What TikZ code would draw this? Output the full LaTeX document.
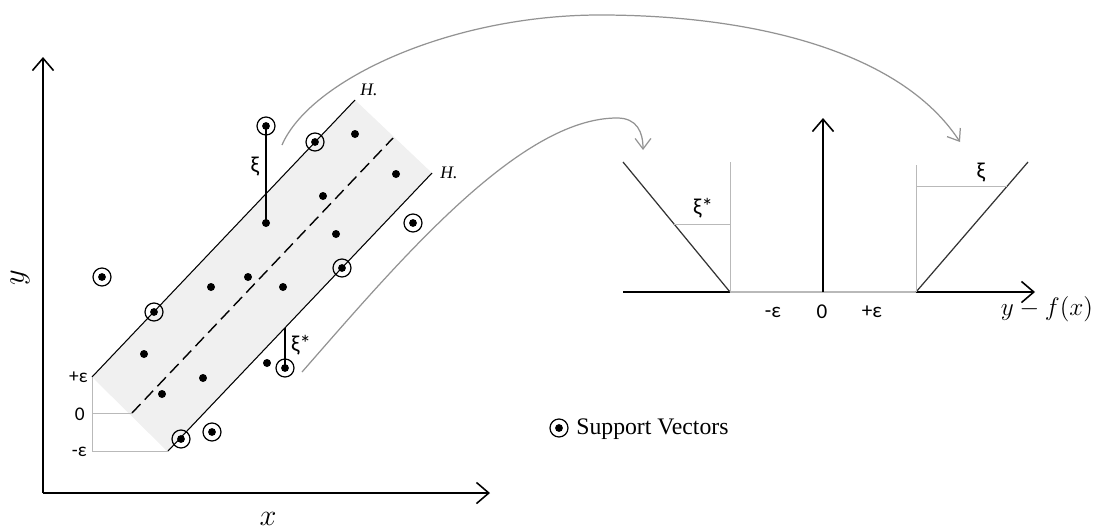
\documentclass[tikz,border=0pt]{standalone}
\usepackage{fontspec}
\setmainfont{Liberation Serif}
\newfontfamily\calib{Carlito}
\usetikzlibrary{arrows.meta}
\begin{document}
\begin{tikzpicture}[x=0.02cm,y=-0.02cm,
  datapt/.style={circle,fill=black,inner sep=0pt,minimum size=0.16cm},
  sv/.style={circle,draw=black,line width=0.7pt,inner sep=0pt,minimum size=0.36cm,
    path picture={\fill[black] (path picture bounding box.center) circle (0.078cm);}},
  myaxis/.style={line width=0.9pt,-{Straight Barb[length=7pt,width=12pt]}},
  hyper/.style={line width=0.6pt},
  guide/.style={draw=gray!55,line width=0.5pt},
  flowarc/.style={draw=gray!85,line width=0.7pt,-{Straight Barb[length=6pt,width=9pt]}},
  lab/.style={font=\calib\fontsize{11}{13}\selectfont,inner sep=0pt},
  glab/.style={font=\calib\fontsize{13}{15}\selectfont,inner sep=0pt},
  hlab/.style={font=\itshape\fontsize{10}{12}\selectfont,inner sep=0pt},
  ]
\useasboundingbox (0,0) rectangle (1098,531);

% ---------- left plot ----------
\fill[gray!12] (92,377) -- (355,100) -- (432,173) -- (168,452) -- cycle;

\coordinate (O) at (43,493);
\coordinate (Ytip) at (43,57);
\coordinate (Xtip) at (490,493);
\draw[myaxis] (O) -- (Ytip);
\draw[myaxis] (O) -- (Xtip);
\node[font=\fontsize{16}{18}\selectfont,rotate=90,inner sep=0pt] (ylab) at (20,278) {$y$};
\node[font=\fontsize{16}{18}\selectfont,inner sep=0pt] (xlab) at (268,519) {$x$};

% hyperplanes
\coordinate (Ha) at (92,377);
\coordinate (Hb) at (355,100);
\coordinate (La) at (168,451);
\coordinate (Lb) at (432,173);
\coordinate (Ma) at (132,413);
\coordinate (Mb) at (393,138);
\draw[hyper] (Ha) -- (Hb);
\draw[hyper] (La) -- (Lb);
\draw[line width=0.8pt,dash pattern=on 7pt off 3.5pt] (Ma) -- (Mb);
\node[hlab] (H1) at (369,90) {H.};
\node[hlab] (H2) at (449,173) {H.};

% epsilon guides
\coordinate (Ga) at (92,451);
\coordinate (Gm) at (92,413);
\draw[guide] (Ha) -- (Ga);
\draw[guide] (Gm) -- (Ma);
\draw[guide] (Ga) -- (La);
\node[lab,anchor=east] (pe) at (88,377) {+ε};
\node[lab,anchor=east] (ze) at (85,414) {0};
\node[lab,anchor=east] (me) at (87,452) {-ε};

% data points
\node[datapt] (p1) at (355,134) {};
\node[datapt] (p2) at (396,174) {};
\node[datapt] (p3) at (323,196) {};
\node[datapt] (p4) at (266,223) {};
\node[datapt] (p5) at (336,234) {};
\node[datapt] (p6) at (248,277) {};
\node[datapt] (p7) at (211,287) {};
\node[datapt] (p8) at (283,287) {};
\node[datapt] (p9) at (144,354) {};
\node[datapt] (p10) at (203,378) {};
\node[datapt] (p11) at (162,394) {};
\node[datapt] (p12) at (267,363) {};

% support vectors
\node[sv] (s1) at (266,126) {};
\node[sv] (s2) at (315,142) {};
\node[sv] (s3) at (413,223) {};
\node[sv] (s4) at (102,277) {};
\node[sv] (s5) at (154,312) {};
\node[sv] (s6) at (342,268) {};
\node[sv] (s7) at (285,368) {};
\node[sv] (s8) at (181,439) {};
\node[sv] (s9) at (212,432) {};

% slack lines
\draw[line width=0.8pt] (s1.center) -- (p4.center);
\node[glab] (xi1) at (255,167) {ξ};
\coordinate (xsTop) at (285,328);
\draw[line width=0.8pt] (s7.center) -- (xsTop);
\node[glab] (xi2) at (301,345) {ξ*};

% ---------- flow arcs ----------
\coordinate (A1s) at (282,145);
\coordinate (A1m) at (600,15);
\coordinate (A1e) at (960,142);
\draw[flowarc] (A1s) .. controls (310,80) and (450,15) .. (A1m)
  .. controls (750,15) and (900,50) .. (A1e);
\coordinate (A2s) at (302,372);
\coordinate (A2m) at (617,118);
\coordinate (A2e) at (643,150);
\draw[flowarc] (A2s) .. controls (400,260) and (520,118) .. (A2m)
  .. controls (637,118) and (643,132) .. (A2e);

% ---------- right plot ----------
\coordinate (R0) at (623,292);
\coordinate (Rm) at (730,292);
\coordinate (Rc) at (823,292);
\coordinate (Rp) at (916,292);
\coordinate (Rtip) at (1035,292);
\coordinate (Rtop) at (823,118);
\draw[line width=0.9pt] (R0) -- (Rm);
\draw[guide,line width=0.7pt] (Rm) -- (Rp);
\draw[myaxis] (Rp) -- (Rtip);
\draw[myaxis] (Rc) -- (Rtop);

\coordinate (Vl) at (623,162);
\coordinate (Vlt) at (730,162);
\coordinate (Vlh) at (674,224);
\coordinate (Vlv) at (730,224);
\draw[line width=0.7pt,draw=black!80] (Vl) -- (Rm);
\draw[guide] (Rm) -- (Vlt);
\draw[guide] (Vlh) -- (Vlv);
\node[glab] (xl) at (703,208) {ξ*};

\coordinate (Vr) at (1028,162);
\coordinate (Vrt) at (916,165);
\coordinate (Vrh) at (1007,186);
\coordinate (Vrv) at (916,186);
\draw[line width=0.7pt,draw=black!80] (Rp) -- (Vr);
\draw[guide] (Rp) -- (Vrt);
\draw[guide] (Vrv) -- (Vrh);
\node[glab] (xr) at (981,173) {ξ};

\node[lab,font=\calib\fontsize{12}{14}\selectfont] (rme) at (773,312) {-ε};
\node[lab,font=\calib\fontsize{12}{14}\selectfont] (rze) at (822,312) {0};
\node[lab,font=\calib\fontsize{12}{14}\selectfont] (rpe) at (872,312) {+ε};
\node[font=\fontsize{14}{16}\selectfont,inner sep=0pt] (yf) at (1047,309) {$y - f(x)$};

% ---------- legend ----------
\node[sv] (leg) at (559,428) {};
\node[anchor=west,font=\fontsize{13.5}{16}\selectfont,inner sep=0pt] (legt) at (576,429) {Support Vectors};
\end{tikzpicture}
\end{document}
